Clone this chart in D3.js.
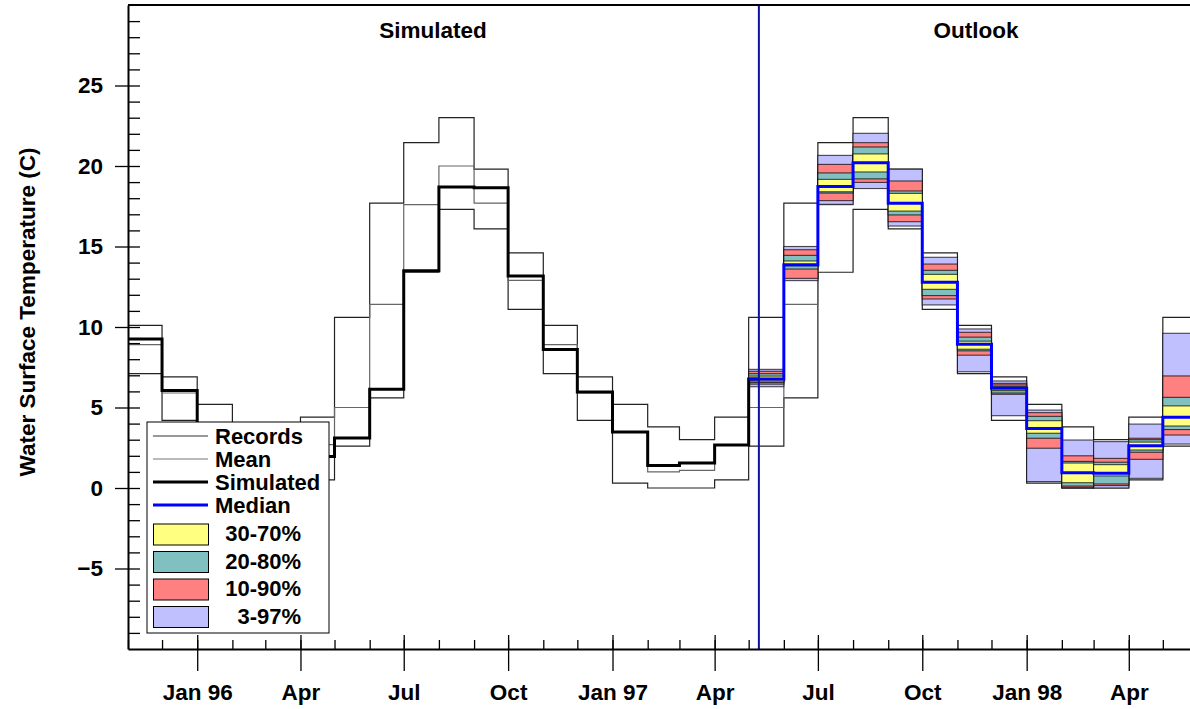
<!DOCTYPE html>
<html>
<head>
<meta charset="utf-8">
<script src="https://cdn.jsdelivr.net/npm/d3@7"></script>
<style>
  body { margin: 0; background: #fff; }
  svg text { font-family: "Liberation Sans", Arial, sans-serif; font-weight: bold; fill: #000; }
</style>
</head>
<body>
<svg id="chart" width="1190" height="709"></svg>
<script>
// monthly step values: each value holds from the 1st of its month to the 1st of the next

// climatology by calendar month, Jan..Dec
const recordMax  = [5.2, 3.8, 3.0, 4.4, 10.6, 17.7, 21.45, 23.0, 19.8, 14.6, 10.1, 6.9];
const recordMean = [3.5, 1.0, 1.1, 2.7, 5.0, 11.4, 17.6, 20.0, 17.7, 12.9, 8.9, 5.9];
const recordMin  = [0.3, 0.0, 0.0, 0.5, 2.6, 5.6, 13.4, 17.3, 16.1, 11.1, 7.1, 4.2];

const simMonths = ["1995-11", "1995-12", "1996-01", "1996-02", "1996-03", "1996-04", "1996-05",
  "1996-06", "1996-07", "1996-08", "1996-09", "1996-10", "1996-11", "1996-12",
  "1997-01", "1997-02", "1997-03", "1997-04", "1997-05"];
const simulated = [9.25, 6.05, 4.0, 2.6, 2.2, 1.95, 3.1, 6.13, 13.5, 18.7, 18.65, 13.17,
  8.6, 5.96, 3.48, 1.39, 1.55, 2.67, 6.77];

const forecastDate = "1997-05-10";

const outlookMonths = ["1997-05", "1997-06", "1997-07", "1997-08", "1997-09", "1997-10", "1997-11",
  "1997-12", "1998-01", "1998-02", "1998-03", "1998-04", "1998-05"];
const p97 = [7.37, 15.0, 20.66, 22.03, 19.8, 14.33, 9.88, 6.65, 4.84, 2.98, 2.88, 3.97, 9.61];
const p90 = [7.25, 14.8, 20.1, 21.45, 19.07, 13.91, 9.67, 6.5, 4.68, 2.0, 1.84, 3.09, 6.96];
const p80 = [7.1, 14.45, 19.57, 21.18, 18.45, 13.52, 9.37, 6.4, 4.45, 1.65, 1.6, 3.0, 5.63];
const p70 = [6.95, 14.1, 19.17, 20.75, 18.3, 13.27, 9.12, 6.3, 4.18, 1.55, 1.45, 2.85, 5.1];
const p50 = [6.77, 13.87, 18.72, 20.2, 17.68, 12.78, 8.93, 6.19, 3.7, 0.95, 0.91, 2.63, 4.39];
const p30 = [6.65, 13.8, 18.4, 19.63, 17.2, 12.34, 8.62, 6.05, 3.4, 0.33, 0.75, 2.36, 3.85];
const p20 = [6.55, 13.6, 18.32, 19.2, 16.96, 11.95, 8.52, 5.9, 3.09, 0.12, 0.25, 2.22, 3.63];
const p10 = [6.45, 13.02, 17.85, 18.98, 16.54, 11.74, 8.25, 5.82, 2.47, 0.04, 0.15, 1.78, 3.29];
const p3  = [6.29, 12.88, 17.62, 18.6, 16.27, 11.37, 7.22, 4.49, 0.4, -0.02, 0.0, 0.6, 2.73];

const yTicks = [-5, 0, 5, 10, 15, 20, 25];
const xTickDates = ["1996-01", "1996-04", "1996-07", "1996-10", "1997-01", "1997-04",
  "1997-07", "1997-10", "1998-01", "1998-04"];
const xTickLabels = ["Jan 96", "Apr", "Jul", "Oct", "Jan 97", "Apr", "Jul", "Oct", "Jan 98", "Apr"];

const bandNames = ["3-97%", "10-90%", "20-80%", "30-70%"];
const bandLow = [p3, p10, p20, p30];
const bandHigh = [p97, p90, p80, p70];
const bandColors = ["#c0c0ff", "#ff8080", "#80c0c0", "#ffff80"];

const parseMonth = d3.utcParse("%Y-%m");
const parseDay = d3.utcParse("%Y-%m-%d");

const plotLeft = 128, plotTop = 5, plotBottom = 649, plotRight = 1198;
const svg = d3.select("#chart");

const x = d3.scaleUtc()
  .domain([parseMonth("1995-11"), parseMonth("1998-06")])
  .range([plotLeft, plotRight]);
const y = d3.scaleLinear().domain([-10, 30]).range([plotBottom, plotTop]);

const stepLine = d3.line()
  .x(d => x(d[0]))
  .y(d => y(d[1]))
  .curve(d3.curveStepAfter);

function steps(months, values, endDate) {
  const pts = months.map((m, i) => [parseMonth(m), values[i]]);
  const last = months[months.length - 1];
  pts.push([endDate || d3.utcMonth.offset(parseMonth(last), 1), values[values.length - 1]]);
  return pts;
}

svg.append("clipPath").attr("id", "plot-clip")
  .append("rect").attr("x", plotLeft).attr("y", plotTop)
  .attr("width", plotRight - plotLeft).attr("height", plotBottom - plotTop);

const plot = svg.append("g").attr("clip-path", "url(#plot-clip)");

// climatology records, repeated for every month on the axis
const climMonths = d3.utcMonth.range(parseMonth("1995-11"), parseMonth("1998-06"))
  .map(d3.utcFormat("%Y-%m"));
const byMonth = arr => climMonths.map(m => arr[parseMonth(m).getUTCMonth()]);

[[recordMax, "#222"], [recordMin, "#222"], [recordMean, "#666"]].forEach(([arr, color]) => {
  plot.append("path")
    .attr("d", stepLine(steps(climMonths, byMonth(arr))))
    .attr("fill", "none")
    .attr("stroke", color)
    .attr("stroke-width", 1.2);
});

// outlook percentile bands
bandLow.forEach((lo, b) => {
  plot.append("g")
    .selectAll("rect")
    .data(outlookMonths)
    .join("rect")
    .attr("x", m => x(parseMonth(m)))
    .attr("width", m => x(d3.utcMonth.offset(parseMonth(m), 1)) - x(parseMonth(m)))
    .attr("y", (m, i) => y(bandHigh[b][i]))
    .attr("height", (m, i) => y(lo[i]) - y(bandHigh[b][i]))
    .attr("fill", bandColors[b])
    .attr("stroke", "rgba(0,0,0,0.7)")
    .attr("stroke-width", 1.1);
});

// simulated
plot.append("path")
  .attr("d", stepLine(steps(simMonths, simulated, parseDay(forecastDate))))
  .attr("fill", "none")
  .attr("stroke", "#000")
  .attr("stroke-width", 3);

// median outlook
plot.append("path")
  .attr("d", stepLine(steps(outlookMonths, p50)))
  .attr("fill", "none")
  .attr("stroke", "#0000ff")
  .attr("stroke-width", 3);

// forecast date marker
svg.append("line")
  .attr("x1", x(parseDay(forecastDate))).attr("x2", x(parseDay(forecastDate)))
  .attr("y1", plotTop).attr("y2", plotBottom)
  .attr("stroke", "#1010a0")
  .attr("stroke-width", 2);

// top border
svg.append("line")
  .attr("x1", plotLeft).attr("x2", plotRight)
  .attr("y1", plotTop).attr("y2", plotTop)
  .attr("stroke", "#000").attr("stroke-width", 2);

// y axis: majors outside, all integers inside
const yMinor = svg.append("g").attr("transform", `translate(${plotLeft},0)`)
  .call(d3.axisLeft(y).tickValues(d3.range(-9, 30)).tickSize(-12).tickSizeOuter(0).tickFormat(""));
yMinor.select(".domain").remove();

const yAxis = svg.append("g").attr("transform", `translate(${plotLeft},0)`)
  .call(d3.axisLeft(y).tickValues(yTicks).tickSize(13).tickSizeOuter(0).tickPadding(12));
yAxis.select(".domain").attr("stroke-width", 2);
yAxis.selectAll("text").attr("font-size", 22.5).style("font-family", null);

// x axis: months inside, quarters crossing
const xMinor = svg.append("g").attr("transform", `translate(0,${plotBottom})`)
  .call(d3.axisBottom(x).ticks(d3.utcMonth.every(1)).tickSize(-9).tickSizeOuter(0).tickFormat(""));
xMinor.select(".domain").remove();
const xMajorIn = svg.append("g").attr("transform", `translate(0,${plotBottom})`)
  .call(d3.axisBottom(x).tickValues(xTickDates.map(parseMonth)).tickSize(-14).tickSizeOuter(0).tickFormat(""));
xMajorIn.select(".domain").remove();

const xAxis = svg.append("g").attr("transform", `translate(0,${plotBottom})`)
  .call(d3.axisBottom(x)
    .tickValues(xTickDates.map(parseMonth))
    .tickSize(22).tickSizeOuter(0).tickPadding(13)
    .tickFormat((d, i) => xTickLabels[i]));
xAxis.select(".domain").attr("stroke-width", 2);
xAxis.selectAll("text").attr("font-size", 22.5).style("font-family", null);
svg.selectAll(".tick line").attr("stroke-width", 1.3);

// y label
svg.append("text")
  .attr("transform", "translate(35,312) rotate(-90)")
  .attr("text-anchor", "middle")
  .attr("font-size", 22.5)
  .text("Water Surface Temperature (C)");

// section headers
svg.append("text").attr("x", 433).attr("y", 38).attr("text-anchor", "middle")
  .attr("font-size", 22.5).text("Simulated");
svg.append("text").attr("x", 976).attr("y", 38).attr("text-anchor", "middle")
  .attr("font-size", 22.5).text("Outlook");

// legend
const legend = svg.append("g");
legend.append("rect")
  .attr("x", 147).attr("y", 422).attr("width", 182).attr("height", 211)
  .attr("fill", "#fff").attr("stroke", "#000").attr("stroke-width", 1);

const lineItems = [
  { label: "Records", color: "#333", width: 1.2 },
  { label: "Mean", color: "#777", width: 1.2 },
  { label: "Simulated", color: "#000", width: 3 },
  { label: "Median", color: "#0000ff", width: 3 }
];
lineItems.forEach((item, i) => {
  const ly = 436 + i * 23;
  legend.append("line")
    .attr("x1", 153).attr("x2", 208).attr("y1", ly).attr("y2", ly)
    .attr("stroke", item.color).attr("stroke-width", item.width);
  legend.append("text")
    .attr("x", 215).attr("y", ly + 7.5)
    .attr("font-size", 22)
    .text(item.label);
});

// swatches listed from the narrowest band
[3, 2, 1, 0].forEach((b, i) => {
  const sy = 524 + i * 27.5;
  legend.append("rect")
    .attr("x", 153.5).attr("y", sy).attr("width", 55).attr("height", 21)
    .attr("fill", bandColors[b]).attr("stroke", "#000").attr("stroke-width", 1);
  legend.append("text")
    .attr("x", 301).attr("y", sy + 17)
    .attr("text-anchor", "end")
    .attr("font-size", 22)
    .text(bandNames[b]);
});
</script>
</body>
</html>
